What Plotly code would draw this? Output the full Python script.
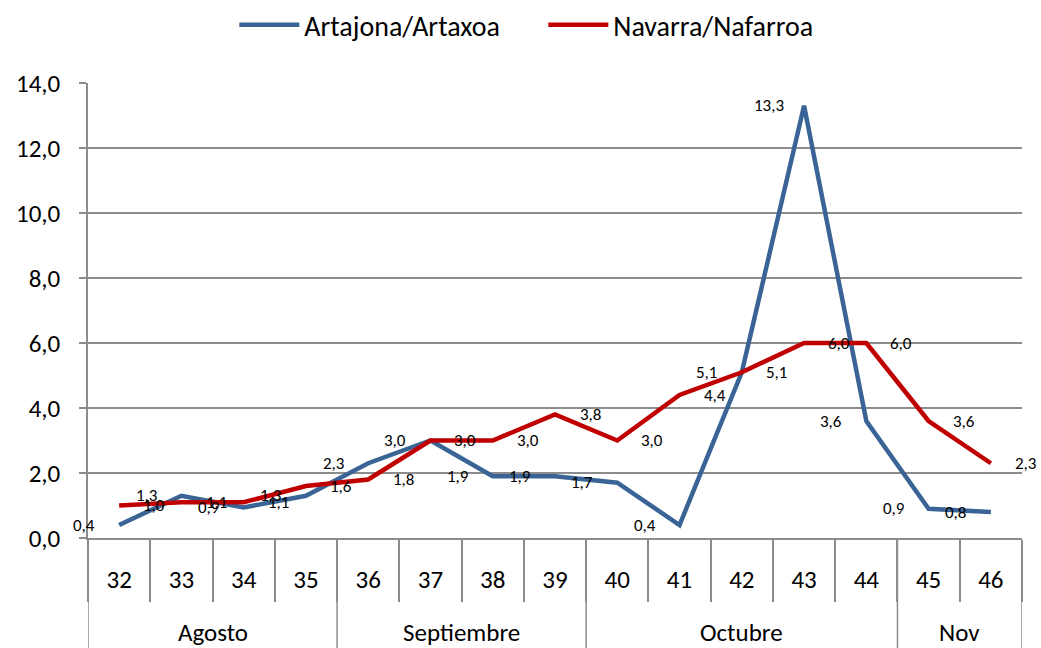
import plotly.graph_objects as go

weeks = ["32", "33", "34", "35", "36", "37", "38", "39", "40", "41", "42", "43", "44", "45", "46"]
months = ["Agosto"] * 4 + ["Septiembre"] * 4 + ["Octubre"] * 5 + ["Nov"] * 2
artajona = [0.4, 1.3, 0.94, 1.3, 2.3, 3.0, 1.9, 1.9, 1.7, 0.4, 5.1, 13.3, 3.6, 0.9, 0.8]
navarra = [1.0, 1.1, 1.1, 1.6, 1.8, 3.0, 3.0, 3.8, 3.0, 4.4, 5.1, 6.0, 6.0, 3.6, 2.3]
y_ticks = [0, 2, 4, 6, 8, 10, 12, 14]

FONT = "Carlito, 'Liberation Sans Narrow', Lato, sans-serif"
GRID = "#8C8C8C"
BLUE = "#3A6496"
RED = "#C00000"

PLOT_H = 648 - 83 - 110


def fmt(v):
    return f"{v:.1f}".replace(".", ",")


fig = go.Figure()
fig.add_trace(go.Scatter(x=weeks, y=artajona, name="Artajona/Artaxoa", mode="lines",
                         line=dict(color=BLUE, width=4.5)))
fig.add_trace(go.Scatter(x=weeks, y=navarra, name="Navarra/Nafarroa", mode="lines",
                         line=dict(color=RED, width=4.5)))

# data labels (blue to the left of each point, red to the right)
for i, v in enumerate(artajona):
    fig.add_annotation(x=i, y=v, xref="x", yref="y", text=fmt(v), showarrow=False, xshift=-35,
                       font=dict(size=17, color="black", family=FONT))
for i, v in enumerate(navarra):
    fig.add_annotation(x=i, y=v, xref="x", yref="y", text=fmt(v), showarrow=False, xshift=35,
                       font=dict(size=17, color="black", family=FONT))

# month group labels and dividers
groups = []
for i, m in enumerate(months):
    if not groups or groups[-1][0] != m:
        groups.append([m, i, i])
    else:
        groups[-1][2] = i
bottom = -110 / PLOT_H
for m, s, e in groups:
    fig.add_annotation(x=(s + e) / 2, y=-(632 - 538) / PLOT_H, xref="x", yref="paper",
                       text=m, showarrow=False, yanchor="middle",
                       font=dict(size=25, color="black", family=FONT))
    fig.add_shape(type="line", xref="x", yref="paper", x0=s - 0.5, x1=s - 0.5, y0=0, y1=bottom,
                  line=dict(color=GRID, width=1.5))
fig.add_shape(type="line", xref="x", yref="paper", x0=len(weeks) - 0.5, x1=len(weeks) - 0.5,
              y0=0, y1=bottom, line=dict(color=GRID, width=1.5))

fig.update_layout(
    width=1041, height=648,
    margin=dict(l=88, r=19, t=83, b=110, autoexpand=False),
    paper_bgcolor="white", plot_bgcolor="white",
    font=dict(family=FONT, size=25, color="black"),
    showlegend=True,
    legend=dict(orientation="h", x=0.4875, xanchor="center", y=1 - 25 / 648, yanchor="middle",
                yref="container", font=dict(size=28), itemwidth=60,
                entrywidth=234, entrywidthmode="pixels"),
)
fig.update_yaxes(
    range=[0, 14], tickvals=y_ticks, ticktext=[fmt(v) for v in y_ticks],
    showgrid=True, gridcolor=GRID, gridwidth=1.5,
    showline=True, linecolor=GRID, linewidth=1.5,
    ticks="outside", tickcolor=GRID, ticklen=7, tickwidth=1.5,
    ticklabelstandoff=14,
    zeroline=False, tickfont=dict(size=25), automargin=False,
)
fig.update_xaxes(
    type="category", range=[-0.5, len(weeks) - 0.5], showgrid=False,
    showline=True, linecolor=GRID, linewidth=1.5,
    ticks="outside", tickson="boundaries", ticklen=62, tickcolor=GRID, tickwidth=1.5,
    ticklabelstandoff=18,
    tickfont=dict(size=25), automargin=False,
)
fig.write_html("out.html", post_script="document.body.style.margin='0';",
               config={"displayModeBar": False})
